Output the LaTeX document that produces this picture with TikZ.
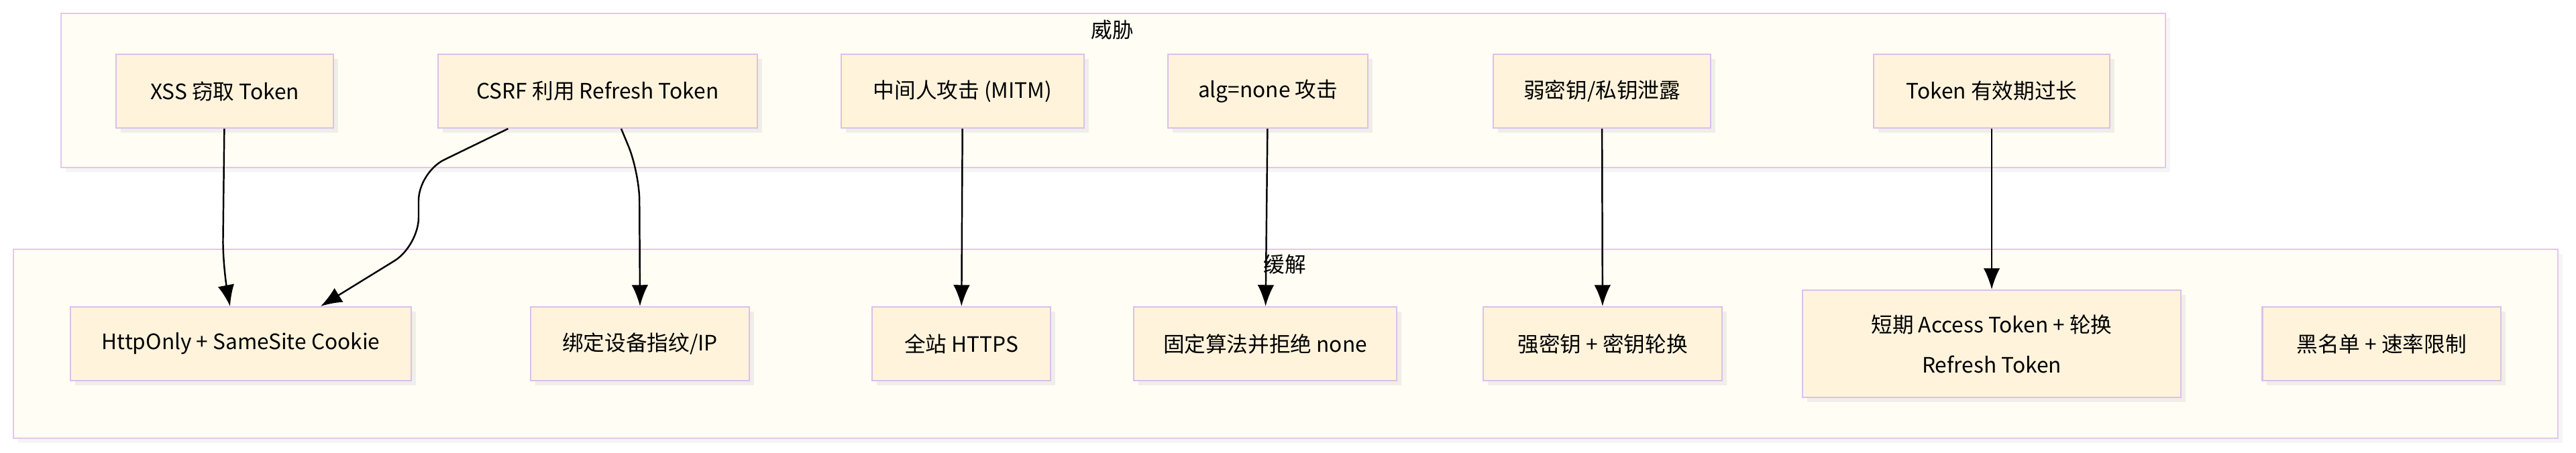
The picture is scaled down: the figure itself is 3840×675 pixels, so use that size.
\documentclass[tikz,border=0pt]{standalone}
\usepackage{fontspec}
\setmainfont{Noto Sans CJK SC}
\usetikzlibrary{shadows,arrows.meta}
\definecolor{nodefill}{HTML}{FFF3DC}
\definecolor{nodeline}{HTML}{DDBFEA}
\definecolor{clfill}{HTML}{FFFDF4}
\definecolor{clline}{HTML}{E3C7EC}
\tikzset{
  threat/.style={rectangle, draw=nodeline, fill=nodefill, line width=0.6pt,
    drop shadow={shadow xshift=2pt, shadow yshift=-2pt, fill=black!12},
    font=\fontsize{9}{13}\selectfont, align=center, inner sep=0pt},
  cluster/.style={draw=clline, fill=clfill, line width=0.6pt,
    drop shadow={shadow xshift=2pt, shadow yshift=-2pt, fill=black!8}},
  link/.style={-{Latex[length=9pt,width=7pt]}, line width=0.7pt, rounded corners=12pt}
}
\begin{document}
\begin{tikzpicture}[x=0.01cm, y=-0.01cm]
    \useasboundingbox (0,0) rectangle (3840,675);
    % clusters
    \draw[cluster] (91,20) rectangle (3228,250);
    \node[font=\fontsize{9}{11}\selectfont] (tlabel) at (1658,44) {威胁};
    \draw[cluster] (20,372) rectangle (3813,654);
    \node[font=\fontsize{9}{11}\selectfont] (mlabel) at (1915,394) {缓解};
    % threats
    \node[threat, minimum width=3.23cm, minimum height=1.1cm] (xss) at (335,136) {XSS 窃取 Token};
    \node[threat, minimum width=4.75cm, minimum height=1.1cm] (csrf) at (891,136) {CSRF 利用 Refresh Token};
    \node[threat, minimum width=3.62cm, minimum height=1.1cm] (mitm) at (1435,136) {中间人攻击 (MITM)};
    \node[threat, minimum width=2.97cm, minimum height=1.1cm] (alg) at (1890,136) {alg=none 攻击};
    \node[threat, minimum width=3.23cm, minimum height=1.1cm] (weak) at (2388,136) {弱密钥/私钥泄露};
    \node[threat, minimum width=3.51cm, minimum height=1.1cm] (life) at (2969,136) {Token 有效期过长};
    % mitigations
    \node[threat, minimum width=5.07cm, minimum height=1.1cm] (cookie) at (359,513) {HttpOnly + SameSite Cookie};
    \node[threat, minimum width=3.26cm, minimum height=1.1cm] (bind) at (954,513) {绑定设备指纹/IP};
    \node[threat, minimum width=2.65cm, minimum height=1.1cm] (https) at (1433,513) {全站 HTTPS};
    \node[threat, minimum width=3.92cm, minimum height=1.1cm] (fixalg) at (1886,513) {固定算法并拒绝 none};
    \node[threat, minimum width=3.56cm, minimum height=1.1cm] (strong) at (2389,513) {强密钥 + 密钥轮换};
    \node[threat, minimum width=5.63cm, minimum height=1.6cm] (short) at (2969,513) {短期 Access Token + 轮换\\[4pt]Refresh Token};
    \node[threat, minimum width=3.55cm, minimum height=1.1cm] (black) at (3550,513) {黑名单 + 速率限制};
    % edges
    \draw[link] (xss) -- (332,400) -- (343,457);
    \draw[link] (csrf.south west) ++(105,0) -- (624,257) -- (624,367) -- (478,457);
    \draw[link] (csrf.south) ++(35,0) -- (953,257) -- (bind.north);
    \draw[link] (mitm) -- (https);
    \draw[link] (alg) -- (fixalg);
    \draw[link] (weak) -- (strong);
    \draw[link] (life) -- (short);
\end{tikzpicture}
\end{document}
